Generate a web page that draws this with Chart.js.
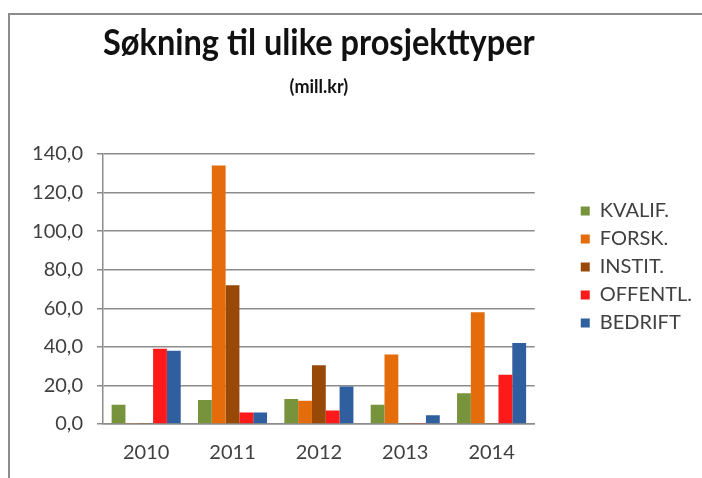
<!DOCTYPE html>
<html>
<head>
<meta charset="utf-8">
<script src="https://cdn.jsdelivr.net/npm/chart.js@4.4.1/dist/chart.umd.min.js"></script>
<style>
  html, body { margin: 0; padding: 0; background: #fff; overflow: hidden; }
  #wrap { position: relative; width: 702px; height: 478px; overflow: hidden; }
  #frame { position: absolute; left: 8px; top: 13px; width: 760px; height: 560px;
           border-left: 2px solid #8c8c8c; border-top: 2px solid #8c8c8c; }
  canvas { position: absolute; left: 0; top: 0; }
</style>
</head>
<body>
<div id="wrap">
  <div id="frame"></div>
  <canvas id="myChart" width="702" height="478"></canvas>
</div>
<script>
// data (mill. kr)
var years = ['2010', '2011', '2012', '2013', '2014'];
var kvalif = [10, 12.5, 13, 10, 16];
var forsk = [0.5, 134, 12, 36, 58];
var instit = [0.3, 72, 30.5, 0.3, 0.3];
var offentl = [39, 6, 7, 0.5, 25.5];
var bedrift = [38, 6, 19.5, 4.5, 42];
var yTicks = [0, 20, 40, 60, 80, 100, 120, 140];

var font = 'Lato, "Open Sans", sans-serif';

function draw() {
    var ctx = document.getElementById('myChart').getContext('2d');
    var myChart = new Chart(ctx, {
        type: 'bar',
        data: {
            labels: years,
            datasets: [
                { label: 'KVALIF.', data: kvalif, backgroundColor: '#77933C' },
                { label: 'FORSK.', data: forsk, backgroundColor: '#E46C0A' },
                { label: 'INSTIT.', data: instit, backgroundColor: '#984807' },
                { label: 'OFFENTL.', data: offentl, backgroundColor: '#FF1A1A' },
                { label: 'BEDRIFT', data: bedrift, backgroundColor: '#2F5F9F' }
            ]
        },
        options: {
            responsive: false,
            animation: false,
            layout: { padding: { top: 0, left: 0, right: 0, bottom: 0 } },
            datasets: { bar: { categoryPercentage: 0.8, barPercentage: 1.0 } },
            plugins: {
                title: {
                    display: true,
                    text: 'Søkning til ulike prosjekttyper',
                    fullSize: false,
                    color: '#111',
                    font: { family: font, size: 37, weight: 'bold' },
                    padding: { top: 21, bottom: 3 }
                },
                subtitle: {
                    display: true,
                    text: '(mill.kr)',
                    fullSize: false,
                    color: '#111',
                    font: { family: font, size: 18, weight: 'bold' },
                    padding: { top: 8, bottom: 56 }
                },
                legend: {
                    position: 'right',
                    align: 'start',
                    fullSize: false,
                    maxWidth: 200,
                    title: { display: true, text: ' ', font: { size: 10 }, padding: { top: 27, bottom: 0 } },
                    labels: {
                        boxWidth: 9,
                        boxHeight: 9,
                        padding: 8,
                        color: '#404040',
                        font: { family: font, size: 20 }
                    }
                },
                tooltip: { enabled: false }
            },
            scales: {
                x: {
                    afterFit: function (s) { s.height = 54; },
                    grid: { display: false, drawTicks: false },
                    border: { color: '#8c8c8c', width: 1.5 },
                    ticks: { color: '#404040', padding: 17, font: { family: font, size: 20 } }
                },
                y: {
                    min: 0,
                    max: 140,
                    afterFit: function (s) { s.width = 103; },
                    afterBuildTicks: function (s) { s.ticks = yTicks.map(function (v) { return { value: v }; }); },
                    grid: { color: '#8c8c8c', lineWidth: 1.5, tickLength: 6 },
                    border: { color: '#8c8c8c', width: 1.5 },
                    ticks: {
                        color: '#404040',
                        padding: 14,
                        font: { family: font, size: 20 },
                        callback: function (v) { return v.toFixed(1).replace('.', ','); }
                    }
                },
                y2: {
                    position: 'right',
                    min: 0,
                    max: 1,
                    afterFit: function (s) { s.width = 38; },
                    grid: { display: false, drawTicks: false },
                    border: { display: false },
                    ticks: { display: false }
                }
            }
        }
    });
}

Promise.all([
    document.fonts.load('20px Lato'),
    document.fonts.load('bold 20px Lato')
]).then(draw, draw);
</script>
</body>
</html>
